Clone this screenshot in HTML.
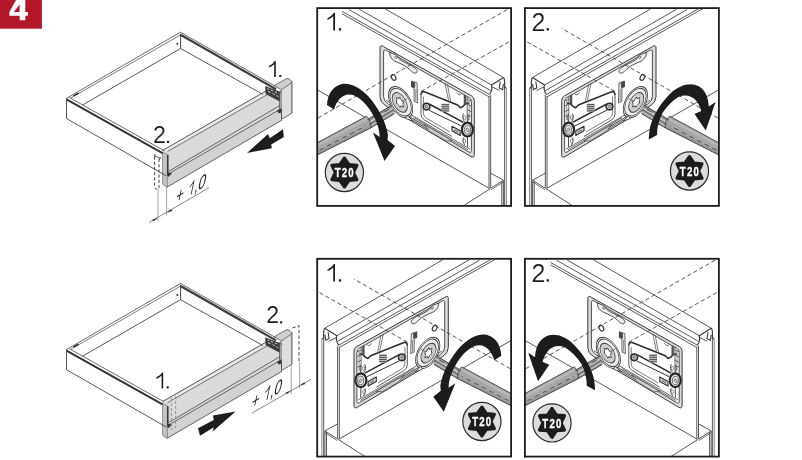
<!DOCTYPE html>
<html><head><meta charset="utf-8"><title>Step 4</title>
<style>html,body{margin:0;padding:0;background:#fff;}svg{display:block;}text{font-family:"Liberation Sans",sans-serif;}</style></head>
<body>
<svg width="802" height="460" viewBox="0 0 802 460">
<defs>
<clipPath id="clipbox"><rect x="317.2" y="8.1" width="193.9" height="197.8"/></clipPath>
<g id="detail"><line x1="385.5" y1="9" x2="503.5" y2="77.5" stroke="#444" stroke-width="0.9" />
<line x1="359.25" y1="9.2" x2="491.5" y2="85" stroke="#444" stroke-width="0.9" />
<line x1="348.75" y1="9.5" x2="490.5" y2="90.5" stroke="#444" stroke-width="0.9" />
<line x1="337.2" y1="8.6" x2="489.5" y2="94.5" stroke="#444" stroke-width="0.9" />
<line x1="333" y1="8.6" x2="489" y2="96.8" stroke="#444" stroke-width="0.9" />
<path d="M503.5,77.5 L491.5,85 C492.5,88 492,91 489.5,94.5" fill="none" stroke="#3a3a3a" stroke-width="1.2" />
<path d="M503.5,77.5 C505,79 504.8,83 504.6,87 L506.2,88.2" fill="none" stroke="#3a3a3a" stroke-width="1.2" />
<path d="M500.2,81.5 L499.2,88 L502.6,89.6 L503.4,84" fill="none" stroke="#3a3a3a" stroke-width="1.1" />
<line x1="492" y1="86.8" x2="499.5" y2="90.6" stroke="#444" stroke-width="0.9" />
<line x1="489" y1="96" x2="489" y2="188.5" stroke="#444" stroke-width="0.9" />
<line x1="490.7" y1="95" x2="490.7" y2="188" stroke="#444" stroke-width="0.9" />
<line x1="504.6" y1="87" x2="504.6" y2="207" stroke="#444" stroke-width="0.9" />
<line x1="506.4" y1="88" x2="506.4" y2="207" stroke="#777" stroke-width="0.9" />
<line x1="318" y1="90.25" x2="489.5" y2="188.5" stroke="#444" stroke-width="0.9" />
<line x1="490.7" y1="173.2" x2="503.5" y2="180.2" stroke="#444" stroke-width="0.9" />
<line x1="503.5" y1="180.2" x2="490.5" y2="188.3" stroke="#444" stroke-width="0.9" />
<line x1="503.3" y1="182" x2="491" y2="189.8" stroke="#444" stroke-width="0.8" />
<line x1="490" y1="188.8" x2="463" y2="206" stroke="#444" stroke-width="0.9" />
<line x1="501.8" y1="181.5" x2="501.8" y2="207" stroke="#444" stroke-width="0.9" />
<line x1="503.4" y1="180.5" x2="503.4" y2="207" stroke="#444" stroke-width="0.9" />
<path d="M380,48 Q380,44.2 383.5,46.6 L471.5,95.8 Q474.3,97.5 474.3,100.5 L474.3,154.5 Q474.3,158.5 471,156.6 L386,106 Q380,102.5 380,97 Z" fill="#dcdcdc" stroke="#3a3a3a" stroke-width="1.0" />
<path d="M383.6,52 Q383.6,48.8 386.3,50.4 L469,97.6 Q471.4,99 471.4,101.6 L471.4,150.5 Q471.4,153.4 469,152 L388,103.8 Q383.6,101 383.6,96.5 Z" fill="#fff" stroke="#3a3a3a" stroke-width="0.9" />
<line x1="386" y1="100.2" x2="470" y2="149.2" stroke="#444" stroke-width="0.8" />
<line x1="392" y1="107.8" x2="428" y2="129.4" stroke="#444" stroke-width="0.8" />
<line x1="414" y1="117.6" x2="468" y2="149.8" stroke="#444" stroke-width="0.8" />
<path d="M424,124.5 L440,133.5 L452,140.8 L446,141 L430,131.5 Z" fill="#cfcfcf" stroke="#444" stroke-width="0.7" />
<path d="M389.6,52.2 C389.6,57 392.2,60 396.2,61.8 C401.2,63.8 406.2,66 409.7,69.6 C412.2,72.4 415.4,74.4 416.9,72.2 C418.1,70 414.2,67 410.2,65 C405.2,62.6 400.4,60.6 398.4,58 C397.4,56.6 397.4,55.4 395.8,54.8 C393.4,53.8 391.6,53.2 389.6,52.2 Z" fill="#eee" stroke="#3a3a3a" stroke-width="0.9" />
<circle cx="396.2" cy="57.2" r="1.2" fill="#fff" stroke="#333" stroke-width="0.7"/>
<ellipse cx="393.6" cy="77.4" rx="2.1" ry="3.1" transform="rotate(-28 393.6 77.4)" fill="#fff" stroke="#3a3a3a" stroke-width="1.2"/>
<path d="M411.6,81 L417,83 L417.6,103 L414.2,101.4 L414,88 L411.6,87 Z" fill="#eee" stroke="#444" stroke-width="0.8" />
<path d="M411.6,81.6 L414.8,82.8 L414.8,87.6 L411.6,86.6 Z" fill="#444" stroke="#333" stroke-width="0.5" />
<line x1="415.8" y1="89" x2="415.8" y2="101" stroke="#444" stroke-width="0.6" />
<path d="M421,95 Q421,90.6 425,92 L457.6,105 L460.4,107.8 L463,106.4 L465.5,103.8 L469,103" fill="none" stroke="#2e2e2e" stroke-width="1.6" stroke-linejoin="round"/>
<path d="M421,95 L421,114 Q421,118 424.5,120 L452,136.5" fill="none" stroke="#444" stroke-width="0.9" />
<path d="M423.4,96.5 L423.4,113 Q423.4,116.4 426.4,118.2 L450,132" fill="none" stroke="#444" stroke-width="0.7" />
<line x1="445" y1="83.2" x2="448.6" y2="100.4" stroke="#444" stroke-width="0.7" />
<line x1="447.4" y1="84.4" x2="450.6" y2="101.2" stroke="#444" stroke-width="0.7" />
<path d="M464,95 L466,95.8 L466,104.4 L464,104 Z" fill="#555" stroke="#444" stroke-width="0.5" />
<path d="M456.5,92.6 L459,95 L461,94.2" fill="none" stroke="#444" stroke-width="0.8" />
<path d="M467,99 L471,101 M467,104 L471,106 M467,109.5 L471,111.5 M467,114.5 L471,116.5 M467.2,97 L467.2,121" fill="none" stroke="#444" stroke-width="0.8" />
<path d="M469.2,100 L469.2,120" fill="none" stroke="#444" stroke-width="0.6" />
<path d="M429.6,104.2 L463.4,122.4" fill="none" stroke="#2a2a2a" stroke-width="1.6" />
<path d="M428.6,110 L461.4,126" fill="none" stroke="#333" stroke-width="1.0" />
<circle cx="426.5" cy="106.6" r="3.3" fill="#ddd" stroke="#2a2a2a" stroke-width="1.6"/>
<circle cx="426.3" cy="106.4" r="1.3" fill="#bbb" stroke="#444" stroke-width="0.6"/>
<ellipse cx="467.4" cy="129.6" rx="5.5" ry="6.9" fill="#e6e6e6" stroke="#262626" stroke-width="2.2"/>
<ellipse cx="467.6" cy="129.8" rx="3" ry="4.2" fill="#f4f4f4" stroke="#444" stroke-width="0.8"/>
<ellipse cx="467.8" cy="130" rx="1.3" ry="2.2" transform="rotate(-25 467.8 130)" fill="#ccc" stroke="#555" stroke-width="0.6"/>
<path d="M463.6,113.5 C462,116 462.6,119.5 464.6,121.6 M467.6,114.6 C468.6,117 468.4,120 467.4,122 M463.4,137.4 C462.4,140 463,143 465,145.4 M467.4,137 L467.6,147" fill="none" stroke="#333" stroke-width="0.9" />
<ellipse cx="464.6" cy="117.6" rx="1.2" ry="2" fill="#fff" stroke="#444" stroke-width="0.6"/>
<ellipse cx="464.4" cy="141" rx="1.2" ry="2" fill="#fff" stroke="#444" stroke-width="0.6"/>
<rect x="441.4" y="103.6" width="7.8" height="8.2" fill="#bdbdbd"/>
<line x1="441.6" y1="104.6" x2="449.2" y2="104.6" stroke="#444" stroke-width="0.9" />
<line x1="441.6" y1="106.7" x2="449.2" y2="106.7" stroke="#444" stroke-width="0.9" />
<line x1="441.6" y1="108.8" x2="449.2" y2="108.8" stroke="#444" stroke-width="0.9" />
<line x1="441.6" y1="110.9" x2="449.2" y2="110.9" stroke="#444" stroke-width="0.9" />
<path d="M452,126.2 L460.2,130.8 L460.2,135.4 L452,130.8 Z" fill="#ddd" stroke="#2e2e2e" stroke-width="1.1" stroke-linejoin="round"/>
<path d="M454,129 L458.4,131.6 L458.4,133 L454,130.4 Z" fill="#777" stroke="none" stroke-width="0.9" />
<g transform="matrix(0.866,0.5,0,1,400.6,102.2)"><circle r="14" fill="#fff" stroke="#3a3a3a" stroke-width="0.9"/><circle r="12.4" fill="#f0f0f0" stroke="#3a3a3a" stroke-width="0.9"/></g>
<path d="M407.4,115.8 L413,121 L405.8,118.6 Z" fill="#fff" stroke="#444" stroke-width="0.8" />
<g transform="matrix(0.866,0.5,0,1,399.8,102.4)"><circle r="8.8" fill="#cdcdcd" stroke="#3a3a3a" stroke-width="0.9"/></g>
<g transform="matrix(0.866,0.5,0,1,399.9,102.3)"><path d="M-0.75,-4.00 Q0.00,-5.40 0.75,-4.00 Q1.50,-2.60 3.09,-2.65 Q4.68,-2.70 3.84,-1.35 Q3.00,0.00 3.84,1.35 Q4.68,2.70 3.09,2.65 Q1.50,2.60 0.75,4.00 Q0.00,5.40 -0.75,4.00 Q-1.50,2.60 -3.09,2.65 Q-4.68,2.70 -3.84,1.35 Q-3.00,0.00 -3.84,-1.35 Q-4.68,-2.70 -3.09,-2.65 Q-1.50,-2.60 -0.75,-4.00 Z" fill="#fff" stroke="#333" stroke-width="0.9"/></g></g>
<g id="driver"><path d="M310,146.72 L366.5,116.20 C369.5,119.20 371.5,124.00 370.5,128.00 L310,158.65 Z" fill="#a5a5a5"/>
<polygon points="310,147.92 366.8,117.24 368.6,119.67 310,151.12" fill="#b6b6b6"/>
<polygon points="310,156.05 370.6,125.35 370.5,128.00 310,158.65" fill="#979797"/>
<polygon points="367.5,119.6 392,105.2 394.5,113.6 370.5,128" fill="#909090"/>
<polygon points="368.6,121.6 392.4,107.4 392.9,109 369.4,123.4" fill="#c6c6c6"/>
<polygon points="370,125.4 393.6,111 394,112.4 370.4,127" fill="#b8b8b8"/>
<line x1="367.5" y1="119.6" x2="392" y2="105.2" stroke="#444" stroke-width="1.0" />
<line x1="370.5" y1="128" x2="394.5" y2="113.6" stroke="#444" stroke-width="1.0" />
<line x1="369.4" y1="124.2" x2="393.2" y2="109.8" stroke="#555" stroke-width="0.8" />
<path d="M310,146.72 L366.5,116.20 C369.5,119.20 371.5,124.00 370.5,128.00 L310,158.65 Z" fill="none" stroke="#4a4a4a" stroke-width="1.0"/>
<line x1="312" y1="153.84061855670106" x2="366" y2="125.57505154639175" stroke="#505050" stroke-width="1.2" stroke-dasharray="4.6 4"/>
<line x1="312" y1="152.94061855670105" x2="366" y2="124.67505154639174" stroke="#cfcfcf" stroke-width="0.6" stroke-dasharray="4.6 4"/></g>
<g id="dash"><line x1="318" y1="118" x2="509" y2="8.5" stroke="#444" stroke-width="0.9" stroke-dasharray="4.2 2.7"/>
<line x1="421" y1="91.4" x2="510.5" y2="41" stroke="#444" stroke-width="0.9" stroke-dasharray="4.2 2.7"/>
<line x1="384.5" y1="112" x2="389" y2="109.4" stroke="#444" stroke-width="0.9" />
<line x1="402.5" y1="101.2" x2="407.5" y2="98.4" stroke="#555" stroke-width="0.8" /></g>
<path id="arrow1" d="M327,105 C327.5,95 332,87 341,84.3 C350,82 360,88 368,96 C378,107 386,122 388,135 L387.5,140 L395,146 L384.5,161 L373,132.5 L379.7,137 C379.5,127 375,117 369,108.5 C362,99 355,94.5 349,94.5 C342,94.5 336.5,101 334,109.5 Z" fill="#1a1a1a"/>
<path id="arrow2" d="M330.20,130.55 L320.45,102.05 L327.20,106.55 C327.70,98.30 330.20,90.30 337.20,86.30 C345.20,81.80 355.20,84.80 363.20,91.30 C373.20,100.30 382.20,113.30 385.70,126.30 C386.70,131.30 387.20,135.30 387.20,139.55 L378.95,135.05 C379.20,128.30 377.20,120.30 373.70,113.30 C368.70,105.50 363.20,100.30 357.20,96.70 C350.70,93.90 343.70,95.70 339.80,100.70 C337.60,103.50 336.00,106.70 334.70,111.05 L341.45,114.05 Z" fill="#1a1a1a"/>
<g id="box1" clip-path="url(#clipbox)"><rect x="316" y="7" width="197" height="201" fill="#fff"/><use href="#detail"/><use href="#driver"/><use href="#dash"/><use href="#arrow1"/></g>
<g id="box2" clip-path="url(#clipbox)"><rect x="316" y="7" width="197" height="201" fill="#fff"/><use href="#detail"/><use href="#driver"/><use href="#dash"/><use href="#arrow2"/></g>
<g id="drawer"><polygon points="162.5,150.8 266,92.6 282,96 282,120 167,187 162.5,184.5" fill="#dadada"/>
<polygon points="163,150.15 266,90.93 270,93.05 167.5,151.47" fill="#e8e8e8"/>
<polygon points="168,174.16 282,108.15 282,120.10 167,187.15" fill="#d2d2d2"/>
<line x1="162.5" y1="150.4375" x2="266" y2="90.92500000000001" stroke="#444" stroke-width="0.9" />
<line x1="167.5" y1="151.475" x2="270" y2="93.05000000000001" stroke="#555" stroke-width="0.8" />
<line x1="169" y1="171.128" x2="281" y2="104.82400000000001" stroke="#555" stroke-width="0.9" />
<line x1="170" y1="173.002" x2="281" y2="108.733" stroke="#555" stroke-width="0.9" />
<line x1="167" y1="187.14600000000002" x2="282" y2="120.101" stroke="#555" stroke-width="0.9" />
<path d="M162.5,152.2 L167.4,154.6 L167.4,187 L164,185.4 Q162.5,184.6 162.5,183 Z" fill="#c2c2c2" stroke="#666" stroke-width="0.6"/>
<line x1="167.8" y1="155" x2="167.8" y2="175.5" stroke="#333" stroke-width="1.5" />
<path d="M167,172 L172,173.5 L168.2,177 Z" fill="#333"/>
<line x1="66.5" y1="98.3" x2="180.5" y2="32.2" stroke="#444" stroke-width="0.8" />
<line x1="70.5" y1="98.2" x2="180" y2="35.2" stroke="#444" stroke-width="0.7" />
<line x1="82.5" y1="105" x2="180.5" y2="48.5" stroke="#444" stroke-width="0.9" />
<path d="M73,95.4 L78.2,92.4 L79,93.6 L73.8,96.6 Z" fill="#222"/>
<circle cx="177.3" cy="43.8" r="1" fill="#333"/>
<line x1="180.6" y1="33.5" x2="180.6" y2="48.5" stroke="#444" stroke-width="1.0" />
<line x1="180.5" y1="32.2" x2="276.4" y2="86.8" stroke="#444" stroke-width="0.8" />
<line x1="181" y1="35" x2="276" y2="89.2" stroke="#3c3c3c" stroke-width="2.2" />
<line x1="180.5" y1="48.5" x2="263" y2="94.4" stroke="#444" stroke-width="0.9" />
<line x1="66.5" y1="98.3" x2="66.5" y2="118.5" stroke="#444" stroke-width="0.9" />
<line x1="66.5" y1="118.5" x2="166.5" y2="176" stroke="#444" stroke-width="0.9" />
<line x1="69.5" y1="97.6" x2="164" y2="150.6" stroke="#444" stroke-width="0.8" />
<line x1="66.5" y1="99.4" x2="162.5" y2="153.2" stroke="#333" stroke-width="1.9" />
<polygon points="281.5,89.8 290.6,83.4 290.6,113.8 281.5,119.4" fill="#dedede"/>
<polygon points="290.6,83.4 292,82 292,113 290.6,113.8" fill="#b8b8b8"/>
<path d="M274,85.6 L287,78.4 Q289,78 292,81.6 L290.6,83.4 L281.5,89.8 Z" fill="#cfcfcf" stroke="#555" stroke-width="0.8"/>
<line x1="281.5" y1="89.8" x2="281.5" y2="119.4" stroke="#444" stroke-width="0.9" />
<line x1="292" y1="81.6" x2="292" y2="113" stroke="#555" stroke-width="0.9" />
<line x1="281.5" y1="119.4" x2="292" y2="113" stroke="#555" stroke-width="0.9" />
<polygon points="265.2,86 279.8,91.8 279.8,101.6 265.6,94" fill="#3a3a3a"/>
<path d="M267.4,88.6 l2,0.9 M271,90.2 l2,0.9 M274.8,91.8 l2.2,1 M268,91.4 l2.6,1.2 M272.6,93.6 l2.2,1 M276.4,95.6 l2,1" stroke="#d8d8d8" stroke-width="1"/>
<polygon points="279.6,91 282,89.6 282,112.4 279.6,111" fill="#8a8a8a"/>
<line x1="280.8" y1="94" x2="280.8" y2="108" stroke="#c8c8c8" stroke-width="0.8" />
<line x1="279.6" y1="91" x2="279.6" y2="111" stroke="#444" stroke-width="0.7" />
<polygon points="277,110.6 281.6,108.6 281.6,112.4 278.6,113.2" fill="#333"/></g>
<filter id="soft" filterUnits="userSpaceOnUse" x="-20" y="-20" width="842" height="500"><feGaussianBlur stdDeviation="0.35"/></filter>
</defs>
<g filter="url(#soft)">
<rect x="-20" y="-20" width="842" height="500" fill="#fff"/>
<rect x="-10" y="-10" width="51.9" height="38.7" fill="#b4162b"/>
<path fill-rule="evenodd" fill="#fff" d="M25.3,20.2 L19.6,20.2 L19.6,15.8 L9.4,15.8 L9.4,12 L18.8,-5 L25.3,-5 L25.3,12 L28,12 L28,15.8 L25.3,15.8 Z M19.6,12 L19.6,4.4 L13.8,12 Z"/>
<use href="#drawer"/>
<use href="#drawer" transform="translate(0,251.2)"/>
<path d="M275.78,77.00 L274.20,77.00 L274.20,64.16 Q271.80,66.33 269.00,67.51 L269.00,65.97 Q273.07,64.07 274.79,61.00 L275.78,61.00 Z" fill="#1a1a1a"/><rect x="279.22" y="74.92" width="2.08" height="2.08" fill="#1a1a1a"/>
<text x="152.96" y="143" font-size="23.2" fill="#1a1a1a" stroke="#fff" stroke-width="0.15">2</text><rect x="166.90" y="140.87" width="2.13" height="2.13" fill="#1a1a1a"/>
<polygon points="247,153 268,134 269.8,138.2 283,129.2 283.8,137 271.2,144.6 271.8,148.2" fill="#1a1a1a"/>
<path d="M154.6,156.5 L154.6,186 Q154.6,189 157,189.4 Q159,189.6 159,187 L159,157.5" fill="none" stroke="#444" stroke-width="1.0" stroke-dasharray="3.2 2"/>
<path d="M154.4,155.4 L160,158.4 M155,154.2 L154.6,157.4 M160.4,157 L159.6,159.8" fill="none" stroke="#444" stroke-width="0.9"/>
<line x1="158" y1="190" x2="158" y2="221" stroke="#666" stroke-width="0.6" />
<line x1="166.6" y1="186" x2="166.6" y2="215" stroke="#666" stroke-width="0.6" />
<line x1="149" y1="222.4" x2="209" y2="187.8" stroke="#555" stroke-width="0.7" />
<polygon points="158,217.8 152.4,219.6 153.4,221.4" fill="#333"/>
<polygon points="166.6,212.8 172.4,211 171.2,209.2" fill="#333"/>
<g transform="matrix(0.667,-0.385,-0.22,1.03,174.7,204.1)" fill="#2a2a2a"><text x="0" y="0" font-size="20">+</text><path d="M25.26,0.00 L23.85,0.00 L23.85,-11.47 Q21.70,-9.53 19.20,-8.48 L19.20,-9.86 Q22.84,-11.55 24.37,-14.30 L25.26,-14.30 Z" fill="#2a2a2a"/><text x="28.4" y="0" font-size="20">,0</text></g>
<path d="M163.18,388.40 L161.60,388.40 L161.60,375.56 Q159.20,377.73 156.40,378.91 L156.40,377.37 Q160.47,375.47 162.19,372.40 L163.18,372.40 Z" fill="#1a1a1a"/><rect x="166.62" y="386.32" width="2.08" height="2.08" fill="#1a1a1a"/>
<text x="266.16" y="323.4" font-size="23.2" fill="#1a1a1a" stroke="#fff" stroke-width="0.15">2</text><rect x="280.10" y="321.27" width="2.13" height="2.13" fill="#1a1a1a"/>
<polygon points="235.6,411.4 213,415.4 213.8,420 198,428.2 200,435.8 213.8,427.2 212.4,431.8" fill="#1a1a1a"/>
<path d="M292.4,328 L299,325.6 L299,362" fill="none" stroke="#444" stroke-width="1.0" stroke-dasharray="3.4 2.2"/>
<line x1="291.2" y1="364" x2="291.2" y2="394" stroke="#666" stroke-width="0.6" />
<line x1="299.6" y1="362" x2="299.6" y2="388.4" stroke="#666" stroke-width="0.6" />
<line x1="252" y1="413" x2="311" y2="379.4" stroke="#555" stroke-width="0.7" />
<polygon points="291.2,390.6 285.6,392.4 286.6,394.2" fill="#333"/>
<polygon points="299.6,385.8 305.4,384 304.2,382.2" fill="#333"/>
<g transform="matrix(0.667,-0.385,-0.22,1.03,250.5,409.4)" fill="#2a2a2a"><text x="0" y="0" font-size="20">+</text><path d="M25.26,0.00 L23.85,0.00 L23.85,-11.47 Q21.70,-9.53 19.20,-8.48 L19.20,-9.86 Q22.84,-11.55 24.37,-14.30 L25.26,-14.30 Z" fill="#2a2a2a"/><text x="28.4" y="0" font-size="20">,0</text></g>
<path d="M171.4,398 L171.4,430 M175.6,396 L175.6,428" fill="none" stroke="#8a8a8a" stroke-width="0.9" stroke-dasharray="3 2"/>
<use href="#box1"/>
<use href="#box2" transform="translate(207.8,250.7)"/>
<use href="#box1" transform="translate(828.3,250.7) scale(-1,1)"/>
<use href="#box2" transform="translate(1036.0,0) scale(-1,1)"/>
<rect x="317.2" y="8.1" width="193.89999999999998" height="197.8" fill="none" stroke="#1a1a1a" stroke-width="1.8"/>
<rect x="524.9" y="8.1" width="193.99999999999994" height="197.8" fill="none" stroke="#1a1a1a" stroke-width="1.8"/>
<rect x="317.2" y="258.79999999999995" width="193.89999999999998" height="197.8" fill="none" stroke="#1a1a1a" stroke-width="1.8"/>
<rect x="524.9" y="258.79999999999995" width="193.99999999999994" height="197.8" fill="none" stroke="#1a1a1a" stroke-width="1.8"/>
<circle cx="344.4" cy="172.5" r="19.1" fill="#dcdcdc" stroke="#2a2a2a" stroke-width="1.2"/>
<polygon points="344.40,158.20 348.85,164.79 356.78,165.35 353.30,172.50 356.78,179.65 348.85,180.21 344.40,186.80 339.95,180.21 332.02,179.65 335.50,172.50 332.02,165.35 339.95,164.79" fill="#1c1c1c" stroke="#1c1c1c" stroke-width="3.4" stroke-linejoin="round"/>
<text transform="translate(344.79999999999995,177.2) scale(0.72,1)" text-anchor="middle" font-weight="bold" font-size="13.4" letter-spacing="1.6" fill="#fff" stroke="#fff" stroke-width="0.35">T20</text>
<circle cx="689.5" cy="171" r="19.1" fill="#dcdcdc" stroke="#2a2a2a" stroke-width="1.2"/>
<polygon points="689.50,156.70 693.95,163.29 701.88,163.85 698.40,171.00 701.88,178.15 693.95,178.71 689.50,185.30 685.05,178.71 677.12,178.15 680.60,171.00 677.12,163.85 685.05,163.29" fill="#1c1c1c" stroke="#1c1c1c" stroke-width="3.4" stroke-linejoin="round"/>
<text transform="translate(689.9,175.7) scale(0.72,1)" text-anchor="middle" font-weight="bold" font-size="13.4" letter-spacing="1.6" fill="#fff" stroke="#fff" stroke-width="0.35">T20</text>
<circle cx="481.9" cy="421.5" r="19.1" fill="#dcdcdc" stroke="#2a2a2a" stroke-width="1.2"/>
<polygon points="481.90,407.20 486.35,413.79 494.28,414.35 490.80,421.50 494.28,428.65 486.35,429.21 481.90,435.80 477.45,429.21 469.52,428.65 473.00,421.50 469.52,414.35 477.45,413.79" fill="#1c1c1c" stroke="#1c1c1c" stroke-width="3.4" stroke-linejoin="round"/>
<text transform="translate(482.29999999999995,426.2) scale(0.72,1)" text-anchor="middle" font-weight="bold" font-size="13.4" letter-spacing="1.6" fill="#fff" stroke="#fff" stroke-width="0.35">T20</text>
<circle cx="552" cy="422.9" r="19.1" fill="#dcdcdc" stroke="#2a2a2a" stroke-width="1.2"/>
<polygon points="552.00,408.60 556.45,415.19 564.38,415.75 560.90,422.90 564.38,430.05 556.45,430.61 552.00,437.20 547.55,430.61 539.62,430.05 543.10,422.90 539.62,415.75 547.55,415.19" fill="#1c1c1c" stroke="#1c1c1c" stroke-width="3.4" stroke-linejoin="round"/>
<text transform="translate(552.4,427.59999999999997) scale(0.72,1)" text-anchor="middle" font-weight="bold" font-size="13.4" letter-spacing="1.6" fill="#fff" stroke="#fff" stroke-width="0.35">T20</text>
<rect x="319" y="9" width="23" height="25" fill="#fff"/><path d="M335.00,30.50 L333.25,30.50 L333.25,16.30 Q330.60,18.70 327.50,20.00 L327.50,18.30 Q332.00,16.20 333.90,12.80 L335.00,12.80 Z" fill="#1a1a1a"/><rect x="338.80" y="28.20" width="2.30" height="2.30" fill="#1a1a1a"/>
<rect x="527" y="9" width="34.5" height="26" fill="#fff"/><text x="531.58" y="30.5" font-size="25" fill="#1a1a1a" stroke="#fff" stroke-width="0.15">2</text><rect x="546.60" y="28.20" width="2.30" height="2.30" fill="#1a1a1a"/>
<rect x="319" y="260" width="35" height="26" fill="#fff"/><path d="M335.00,281.60 L333.25,281.60 L333.25,267.40 Q330.60,269.80 327.50,271.10 L327.50,269.40 Q332.00,267.30 333.90,263.90 L335.00,263.90 Z" fill="#1a1a1a"/><rect x="338.80" y="279.30" width="2.30" height="2.30" fill="#1a1a1a"/>
<rect x="527" y="260" width="23.5" height="25" fill="#fff"/><text x="531.58" y="281.6" font-size="25" fill="#1a1a1a" stroke="#fff" stroke-width="0.15">2</text><rect x="546.60" y="279.30" width="2.30" height="2.30" fill="#1a1a1a"/>
</g>
</svg>
</body></html>
